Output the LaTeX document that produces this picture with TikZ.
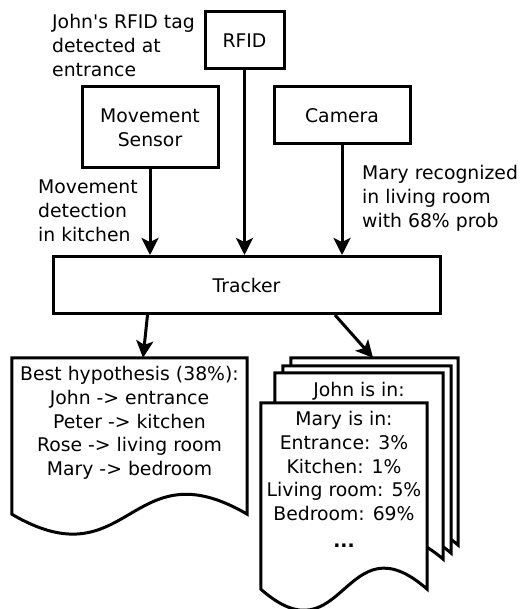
\documentclass[tikz,border=0pt]{standalone}
\usepackage{fontspec}
\setmainfont{DejaVu Sans}[Ligatures=TeXOff]
\usetikzlibrary{arrows.meta,calc}
\tikzset{
  base/.style={font=\fontsize{18.8}{23.8}\selectfont},
  box/.style={base,draw,line width=3pt,fill=white,align=center,inner sep=0pt},
  lbl/.style={base,align=left,inner sep=0pt,anchor=north west},
  ctext/.style={base,align=center,inner sep=0pt,anchor=north},
  docbox/.style={inner sep=0pt,draw=none},
  docline/.style={line width=3pt,fill=white,line join=miter},
  arr/.style={line width=3pt,-{Stealth[length=17pt,width=17pt,inset=4pt]}}
}
\newcommand\mydoc[2]{%
  \draw[docline] (#1.north west) -- (#1.north east) -- (#1.south east)
    .. controls ($(#1.south)+(0,-#2)$) and ($(#1.south)+(0,#2)$) .. (#1.south west) -- cycle;}
\begin{document}
\begin{tikzpicture}[x=1pt,y=-1pt]
\useasboundingbox (0,0) rectangle (522,609);

% sources
\node[box,minimum width=79pt,minimum height=57pt] (rfid) at (244.5,40.5) {RFID};
\node[box,minimum width=136pt,minimum height=81pt] (mov) at (150,127.5) {Movement\\Sensor};
\node[box,minimum width=136pt,minimum height=57pt] (cam) at (342,115.5) {Camera};
\node[box,minimum width=387pt,minimum height=57pt] (tracker) at (246.5,285) {Tracker};

% labels
\node[lbl] (lrfid) at (52,14) {John's RFID tag\\detected at\\entrance};
\node[lbl] (lmov) at (38,180) {Movement\\detection\\in kitchen};
\node[lbl] (lcam) at (362,165) {Mary recognized\\in living room\\with 68\% prob};

% input arrows
\draw[arr] (mov.south) -- (mov.south |- tracker.north);
\draw[arr] (rfid.south) -- (rfid.south |- tracker.north);
\draw[arr] (cam.south) -- (cam.south |- tracker.north);

% left document
\node[docbox,minimum width=235pt,minimum height=156pt] (best) at (129.5,436) {};
\mydoc{best}{69}
\node[ctext] (besttxt) at (129.5,366) {Best hypothesis (38\%):\\John -> entrance\\Peter -> kitchen\\Rose -> living room\\Mary -> bedroom};

% stack of documents
\node[docbox,minimum width=167pt,minimum height=187pt] (p4) at (374.5,451.5) {};
\node[docbox,minimum width=168pt,minimum height=187pt] (p3) at (367,459.5) {};
\node[docbox,minimum width=168pt,minimum height=186pt] (p2) at (359,466) {};
\node[docbox,minimum width=166pt,minimum height=186pt] (p1) at (344,496) {};
\mydoc{p4}{72}
\mydoc{p3}{72}
\mydoc{p2}{72}
\node[ctext] (johntxt) at (359,382) {John is in:};
\mydoc{p1}{73}
\node[ctext] (marytxt) at (344,411) {Mary is in:\\Entrance: 3\%\\Kitchen: 1\%\\Living room: 5\%\\Bedroom: 69\%\\[3pt]\textbf{...}};

% output arrows
\draw[arr] ($(tracker.south west)+(96,0)$) -- ($(best.north)+(13.5,0)$);
\draw[arr] ($(tracker.south)+(88.5,0)$) -- ($(p4.north)+(-1.5,0)$);
\end{tikzpicture}
\end{document}
